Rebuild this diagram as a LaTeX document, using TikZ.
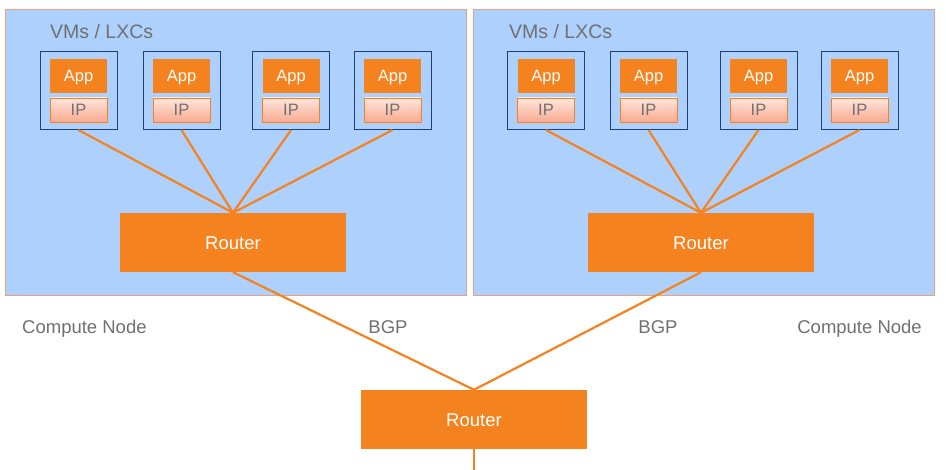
\documentclass[tikz,border=0pt]{standalone}
\usepackage{fontspec}
\setmainfont{Liberation Sans}
\definecolor{hostblue}{HTML}{AED0FC}
\definecolor{hostedge}{HTML}{E9A27E}
\definecolor{netorange}{HTML}{F4821F}
\definecolor{vmedge}{HTML}{1F3F7A}
\definecolor{labelgray}{HTML}{707070}
\definecolor{iptop}{HTML}{FEE6DE}
\definecolor{ipbottom}{HTML}{F9A98F}

\tikzset{
  host/.style={draw=hostedge, fill=hostblue, line width=1pt, minimum width=461pt, minimum height=286pt, inner sep=0},
  vmbox/.style={draw=vmedge, line width=1pt, minimum width=77pt, minimum height=78pt, inner sep=0},
  appbox/.style={fill=netorange, text=white, minimum width=57pt, minimum height=34pt, inner sep=0, text height=11.8pt, text depth=0pt, font=\fontsize{16.5}{16.5}\selectfont},
  ipbox/.style={draw=netorange, line width=0.8pt, top color=iptop, bottom color=ipbottom, text=labelgray, minimum width=57pt, minimum height=24pt, inner sep=0, text height=11.8pt, text depth=0pt, font=\fontsize{16.5}{16.5}\selectfont},
  router/.style={fill=netorange, text=white, minimum width=226pt, minimum height=59pt, inner sep=0, text height=13.2pt, text depth=0pt, font=\fontsize{18.5}{18.5}\selectfont},
  link/.style={draw=netorange, line width=2.2pt},
  caption/.style={text=labelgray, inner sep=0, text height=13.2pt, text depth=0pt, font=\fontsize{18.5}{18.5}\selectfont}
}

\begin{document}
\begin{tikzpicture}[x=1pt,y=-1pt]
  \useasboundingbox (0,0) rectangle (946,470);

  % compute nodes
  \node[host] (hostL) at (235.5,153) {};
  \node[host] (hostR) at (703.5,153) {};
  \node[caption, anchor=west, font=\fontsize{19.5}{19.5}\selectfont] (vmsL) at (50,32) {VMs / LXCs};
  \node[caption, anchor=west, font=\fontsize{19.5}{19.5}\selectfont] (vmsR) at (509,32) {VMs / LXCs};

  % routers
  \node[router] (routerL) at (233,242.5) {Router};
  \node[router] (routerR) at (701,242.5) {Router};
  \node[router] (core) at (474,419.5) {Router};
  \coordinate (uplink) at (474,470);

  % virtual machines
  \foreach \s/\i/\x in {L/1/78.5, L/2/181.5, L/3/291, L/4/392.5,
                        R/1/546, R/2/648.5, R/3/758.5, R/4/859.5} {
    \node[vmbox] (vm\s\i) at (\x,90.5) {};
    \node[appbox] (app\s\i) at (\x,76) {App};
    \node[ipbox] (ip\s\i) at (\x,110) {IP};
    \draw[link] (vm\s\i.south) -- (router\s.north);
  }

  % uplinks
  \draw[link] (routerL.south) -- (core.north);
  \draw[link] (routerR.south) -- (core.north);
  \draw[link] (core.south) -- (uplink);

  \node[caption, anchor=west] (nodeL) at (22,327) {Compute Node};
  \node[caption] (bgpL) at (388,327) {BGP};
  \node[caption] (bgpR) at (658,327) {BGP};
  \node[caption, anchor=east] (nodeR) at (922,327) {Compute Node};
\end{tikzpicture}
\end{document}
